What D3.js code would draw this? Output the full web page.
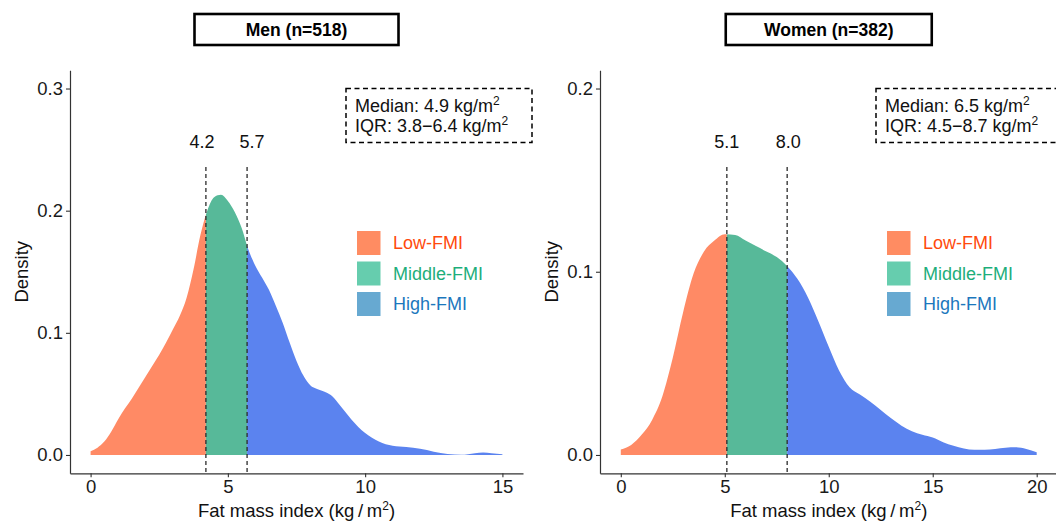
<!DOCTYPE html>
<html>
<head>
<meta charset="utf-8">
<script src="https://cdn.jsdelivr.net/npm/d3@7"></script>
<style>
  body { margin: 0; background: #fff; }
  svg { display: block; font-family: "Liberation Sans", Arial, sans-serif; }
</style>
</head>
<body>
<svg id="chart" width="1056" height="527"></svg>
<script>
// density curves
const menFmi = [0, 0.25, 0.5, 0.75, 1, 1.25, 1.5, 1.75, 2, 2.25, 2.5, 2.75, 3, 3.25, 3.5, 3.75, 4, 4.25, 4.5, 4.75, 5, 5.25, 5.5, 5.75, 6, 6.25, 6.5, 6.75, 7, 7.25, 7.5, 7.75, 8, 8.25, 8.5, 8.75, 9, 9.25, 9.5, 9.75, 10, 10.5, 11, 11.5, 12, 12.5, 13, 13.5, 14, 14.3, 14.6, 15];
const menDensity = [0.003, 0.006, 0.011, 0.019, 0.029, 0.038, 0.046, 0.055, 0.064, 0.073, 0.082, 0.092, 0.103, 0.114, 0.129, 0.152, 0.180, 0.200, 0.211, 0.213, 0.208, 0.199, 0.186, 0.168, 0.155, 0.145, 0.135, 0.122, 0.108, 0.092, 0.077, 0.065, 0.057, 0.054, 0.052, 0.049, 0.043, 0.036, 0.029, 0.023, 0.018, 0.011, 0.0075, 0.0065, 0.005, 0.0027, 0.0008, 0.0001, 0.0015, 0.002, 0.0015, 0.0005];

const womenFmi = [0, 0.5, 1, 1.5, 2, 2.5, 3, 3.5, 4, 4.5, 5, 5.5, 6, 6.5, 7, 7.5, 8, 8.5, 9, 9.5, 10, 10.5, 11, 11.5, 12, 12.5, 13, 13.5, 14, 14.5, 15, 15.5, 16, 16.5, 17, 17.5, 18, 18.5, 19, 19.5, 20];
const womenDensity = [0.003, 0.0055, 0.011, 0.019, 0.032, 0.053, 0.078, 0.099, 0.111, 0.117, 0.1205, 0.120, 0.117, 0.114, 0.111, 0.108, 0.103, 0.096, 0.086, 0.073, 0.059, 0.046, 0.037, 0.033, 0.029, 0.0245, 0.020, 0.016, 0.013, 0.011, 0.0095, 0.007, 0.005, 0.0035, 0.0028, 0.0028, 0.0033, 0.004, 0.0042, 0.0033, 0.0015];

const menCuts = [4.2, 5.7];
const womenCuts = [5.1, 8.0];

const groups = ["Low-FMI", "Middle-FMI", "High-FMI"];
const fillColors = ["#ff8a65", "#57b999", "#5b83ef"];
const swatchColors = ["#ff8c62", "#66cdae", "#67a9d1"];
const textColors = ["#ff4a0d", "#1dae7b", "#1c77bd"];

const menXTicks = [0, 5, 10, 15];
const menYTicks = [0, 0.1, 0.2, 0.3];
const womenXTicks = [0, 5, 10, 15, 20];
const womenYTicks = [0, 0.1, 0.2];

const menMedian = "4.9", menIqr = "3.8\u22126.4";
const womenMedian = "6.5", womenIqr = "4.5\u22128.7";

const svg = d3.select("#chart");
const axisColor = "#333";

const panels = [
  { title: "Men (n=518)", xs: menFmi, ds: menDensity, cuts: menCuts, labelNudge: [-4, 5],
    xDomain: [-0.75, 15.75], yDomain: [-0.015, 0.315], xTicks: menXTicks, yTicks: menYTicks,
    median: menMedian, iqr: menIqr, left: 70, right: 523, boxW: 204 },
  { title: "Women (n=382)", xs: womenFmi, ds: womenDensity, cuts: womenCuts, labelNudge: [0, 1],
    xDomain: [-1, 21], yDomain: [-0.01, 0.21], xTicks: womenXTicks, yTicks: womenYTicks,
    median: womenMedian, iqr: womenIqr, left: 600, right: 1057.5, boxW: 206 }
];

const plotTop = 70.2, plotBottom = 473.3;

panels.forEach((p, pi) => {
  const g = svg.append("g");
  const x = d3.scaleLinear().domain(p.xDomain).range([p.left, p.right]);
  const y = d3.scaleLinear().domain(p.yDomain).range([plotBottom, plotTop]);
  const pts = p.xs.map((v, i) => ({ x: v, d: p.ds[i] }));

  // filled density, split into three parts with clip paths
  const area = d3.area()
    .x(d => x(d.x))
    .y0(y(0))
    .y1(d => y(d.d))
    .curve(d3.curveMonotoneX);
  const bounds = [p.xDomain[0], p.cuts[0], p.cuts[1], p.xDomain[1]];
  groups.forEach((grp, k) => {
    const id = `clip${pi}-${k}`;
    g.append("clipPath").attr("id", id)
      .append("rect")
      .attr("x", x(bounds[k]))
      .attr("y", plotTop)
      .attr("width", x(bounds[k + 1]) - x(bounds[k]))
      .attr("height", plotBottom - plotTop);
    g.append("path")
      .datum(pts)
      .attr("d", area)
      .attr("fill", fillColors[k])
      .attr("clip-path", `url(#${id})`);
  });

  // cut lines + labels
  p.cuts.forEach((c, k) => {
    g.append("line")
      .attr("x1", x(c)).attr("x2", x(c))
      .attr("y1", 167).attr("y2", plotBottom)
      .attr("stroke", "#2b2b2b")
      .attr("stroke-width", 1.3)
      .attr("stroke-dasharray", "4,3");
    g.append("text")
      .attr("x", x(c) + p.labelNudge[k])
      .attr("y", 148)
      .attr("text-anchor", "middle")
      .attr("font-size", 18)
      .attr("fill", "#111")
      .text(c.toFixed(1));
  });

  // axes
  const yAxis = g.append("g")
    .attr("transform", `translate(${p.left},0)`)
    .call(d3.axisLeft(y).tickValues(p.yTicks).tickSize(4).tickSizeOuter(0).tickPadding(3).tickFormat(d3.format(".1f")));
  const xAxis = g.append("g")
    .attr("transform", `translate(0,${plotBottom})`)
    .call(d3.axisBottom(x).tickValues(p.xTicks).tickSize(4).tickSizeOuter(0).tickPadding(3));
  [xAxis, yAxis].forEach(a => {
    a.select(".domain").attr("stroke", axisColor).attr("stroke-width", 1.2);
    a.selectAll(".tick line").attr("stroke", axisColor).attr("stroke-width", 1.1);
    a.selectAll(".tick text")
      .attr("fill", "#1a1a1a")
      .attr("font-size", 18.5)
      .attr("font-family", "Liberation Sans, Arial, sans-serif");
  });

  // axis titles
  g.append("text")
    .attr("transform", `translate(${p.left - 42},${(plotTop + plotBottom) / 2}) rotate(-90)`)
    .attr("text-anchor", "middle")
    .attr("font-size", 18.5)
    .attr("fill", "#111")
    .text("Density");

  const xt = g.append("text")
    .attr("x", (p.left + p.right) / 2)
    .attr("y", 517)
    .attr("text-anchor", "middle")
    .attr("font-size", 18.5)
    .attr("fill", "#111");
  xt.append("tspan").text("Fat mass index (kg\u2009/\u2009m");
  xt.append("tspan").attr("dy", -7).attr("font-size", 12).text("2");
  xt.append("tspan").attr("dy", 7).text(")");

  // title strip
  const cx = (p.left + p.right) / 2;
  g.append("rect")
    .attr("x", cx - p.boxW / 2)
    .attr("y", 14)
    .attr("width", p.boxW)
    .attr("height", 31)
    .attr("fill", "#fff")
    .attr("stroke", "#000")
    .attr("stroke-width", 2.6);
  g.append("text")
    .attr("x", cx)
    .attr("y", 35.5)
    .attr("text-anchor", "middle")
    .attr("font-size", 17.5)
    .attr("font-weight", "bold")
    .attr("fill", "#000")
    .text(p.title);

  // median / IQR box
  const bx = p.left + 276;
  g.append("rect")
    .attr("x", bx)
    .attr("y", 88.5)
    .attr("width", 186)
    .attr("height", 54)
    .attr("fill", "none")
    .attr("stroke", "#000")
    .attr("stroke-width", 1.5)
    .attr("stroke-dasharray", "5,3.5");
  [[`Median: ${p.median} kg/m`, 111.5], [`IQR: ${p.iqr} kg/m`, 131.5]].forEach(([txt, yy]) => {
    const t = g.append("text")
      .attr("x", bx + 9)
      .attr("y", yy)
      .attr("font-size", 18)
      .attr("fill", "#111");
    t.append("tspan").text(txt);
    t.append("tspan").attr("dy", -6.5).attr("font-size", 12).text("2");
  });

  // legend
  const lx = p.left + 287;
  groups.forEach((grp, k) => {
    const ly = 243 + k * 30.5;
    g.append("rect")
      .attr("x", lx)
      .attr("y", ly - 12)
      .attr("width", 23.5)
      .attr("height", 24)
      .attr("fill", swatchColors[k]);
    g.append("text")
      .attr("x", lx + 36)
      .attr("y", ly)
      .attr("dy", "0.36em")
      .attr("font-size", 18)
      .attr("fill", textColors[k])
      .text(grp);
  });
});
</script>
</body>
</html>
